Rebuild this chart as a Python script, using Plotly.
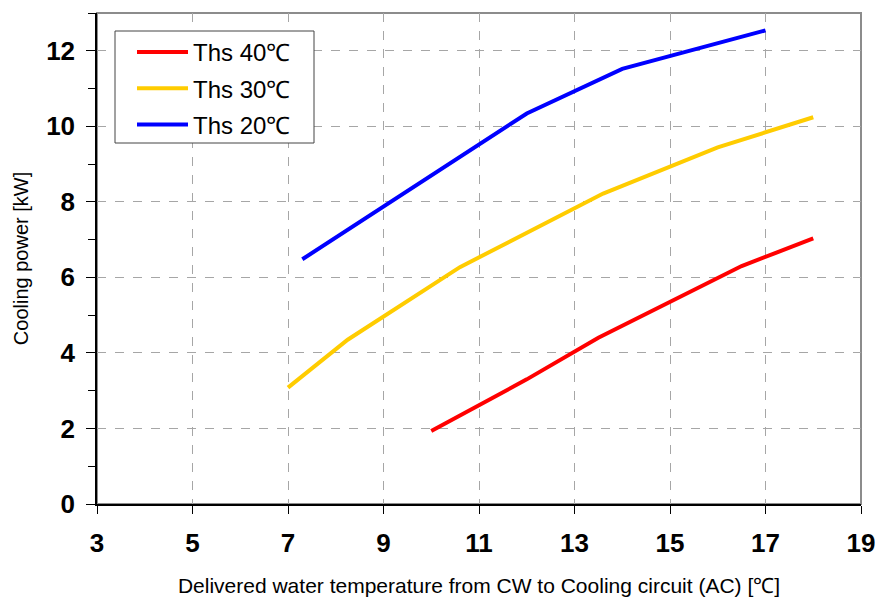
import plotly.graph_objects as go

x40 = [10.0, 12.0, 13.5, 15.0, 16.5, 18.0]
y40 = [1.93, 3.3, 4.4, 5.35, 6.3, 7.03]
x30 = [7.0, 8.25, 10.6, 13.6, 16.0, 18.0]
y30 = [3.08, 4.35, 6.27, 8.22, 9.44, 10.24]
x20 = [7.3, 12.0, 14.0, 17.0]
y20 = [6.48, 10.34, 11.52, 12.54]

names = ["Ths 40℃", "Ths 30℃", "Ths 20℃"]
colors = ["#FF0000", "#FFCC00", "#0000FF"]

fig = go.Figure()
for i, (xs, ys, n, c) in enumerate([(x40, y40, names[0], colors[0]),
                                    (x30, y30, names[1], colors[1]),
                                    (x20, y20, names[2], colors[2])]):
    fig.add_trace(go.Scatter(x=xs, y=ys, mode="lines", name=n, legendgroup=f"g{i}",
                             line=dict(color=c, width=4)))

W, H = 875, 597
L, R, T, B = 97, 14, 13, 93
pw, ph = W - L - R, H - T - B

def px_x(p):
    return (p - L) / pw

def px_y(p):
    return (H - B - p) / ph

font = "Liberation Sans, Arial, sans-serif"
fig.update_layout(
    width=W, height=H,
    margin=dict(l=L, r=R, t=T, b=B),
    plot_bgcolor="white", paper_bgcolor="white",
    font=dict(family=font, color="black"),
    showlegend=True,
    legend=dict(x=px_x(132), y=px_y(30), xanchor="left", yanchor="top",
                borderwidth=0, bgcolor="rgba(0,0,0,0)",
                font=dict(size=24, family=font), tracegroupgap=2,
                itemwidth=51),
    shapes=[dict(type="rect", xref="paper", yref="paper", x0=0, y0=0, x1=1, y1=1,
                 line=dict(color="#8c8c8c", width=2), layer="below"),
            dict(type="rect", xref="paper", yref="paper",
                 x0=px_x(115), x1=px_x(314), y0=px_y(143), y1=px_y(31),
                 line=dict(color="#444", width=1), fillcolor="white", layer="above")],
)
fig.update_xaxes(range=[3, 19], tick0=3, dtick=2, ticks="outside", ticklen=8,
                 tickcolor="black", showline=True, linecolor="black", linewidth=1.5,
                 showgrid=True, gridcolor="#a6a6a6", griddash="dash", gridwidth=1,
                 zeroline=False, automargin=False, ticklabelstandoff=7,
                 ticklabeloverflow="allow",
                 tickfont=dict(size=26, family=font, weight="bold"),
                 title=dict(text="Delivered water temperature from CW to Cooling circuit (AC) [℃]",
                            font=dict(size=21, family=font), standoff=28))
fig.update_yaxes(range=[0, 13], tick0=0, dtick=2, ticks="outside", ticklen=9,
                 tickcolor="black", showline=True, linecolor="black", linewidth=1.5,
                 showgrid=True, gridcolor="#a6a6a6", griddash="dash", gridwidth=1,
                 zeroline=False, automargin=False, ticklabelstandoff=6,
                 ticklabeloverflow="allow",
                 minor=dict(dtick=1, ticks="outside", ticklen=7, tickcolor="black", showgrid=False),
                 tickfont=dict(size=26, family=font, weight="bold"),
                 title=dict(text="Cooling power [kW]", font=dict(size=20, family=font), standoff=12))

fig.write_html("out.html", config={"displayModeBar": False},
               post_script="document.body.style.margin='0';document.body.style.overflow='hidden';")
